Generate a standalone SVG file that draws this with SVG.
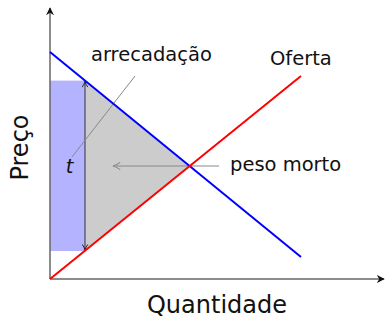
<svg xmlns="http://www.w3.org/2000/svg" width="385" height="321" viewBox="0 0 385 321">
<defs>
<marker id="axarrow" viewBox="0 0 10 10" refX="9" refY="5" markerWidth="8" markerHeight="8" markerUnits="userSpaceOnUse" orient="auto">
<path d="M0,0 L10,5 L0,10 L3,5 Z" fill="#111"/>
</marker>
<marker id="tarrow" viewBox="0 0 10 10" refX="9" refY="5" markerWidth="7" markerHeight="7" markerUnits="userSpaceOnUse" orient="auto-start-reverse">
<path d="M1,1 Q5,4 9,5 Q5,6 1,9" fill="none" stroke="#222" stroke-width="1.4"/>
</marker>
<marker id="garrow" viewBox="0 0 10 10" refX="9" refY="5" markerWidth="9" markerHeight="9" markerUnits="userSpaceOnUse" orient="auto-start-reverse">
<path d="M1,1 Q5,4 9,5 Q5,6 1,9" fill="none" stroke="#888" stroke-width="1.2"/>
</marker>
</defs>
<style>
text{font-family:"DejaVu Sans","Liberation Sans",sans-serif;fill:#111}
.lbl{font-size:19.5px}
.ax{font-size:24px}
.axis{stroke:#666;stroke-width:1.5;fill:none}
.ptr{stroke:#888;stroke-width:1;fill:none}
</style>
<g id="areas">
<rect x="50" y="80.6" width="35" height="170.4" fill="#b3b3ff"/>
<polygon points="85,80.6 85,250.7 189.6,166" fill="#cccccc"/>
</g>
<g id="connectors">
<line class="axis" x1="50" y1="279" x2="50" y2="8" marker-end="url(#axarrow)"/>
<line class="axis" x1="50" y1="279" x2="384" y2="279" marker-end="url(#axarrow)"/>
<line x1="85" y1="81.5" x2="85" y2="250" stroke="#333" stroke-width="1" marker-start="url(#tarrow)" marker-end="url(#tarrow)"/>
<line class="ptr" x1="135" y1="76" x2="72" y2="157"/>
<line class="ptr" x1="219" y1="166" x2="113" y2="166" marker-end="url(#garrow)"/>
</g>
<g id="demanda">
<line x1="50" y1="52" x2="301" y2="257" stroke="#0000ff" stroke-width="2"/>
</g>
<g id="oferta">
<line x1="50" y1="279" x2="301" y2="76" stroke="#ff0000" stroke-width="2"/>
</g>
<g id="labels">
<text class="lbl" x="91" y="61">arrecadação</text>
<text class="lbl" x="270" y="65">Oferta</text>
<text class="lbl" x="230" y="171">peso morto</text>
<text class="lbl" x="69.5" y="173" text-anchor="middle" font-style="italic">t</text>
<text class="ax" x="217" y="313" text-anchor="middle">Quantidade</text>
<text class="ax" transform="translate(28,147.5) rotate(-90)" text-anchor="middle">Preço</text>
</g>
</svg>
